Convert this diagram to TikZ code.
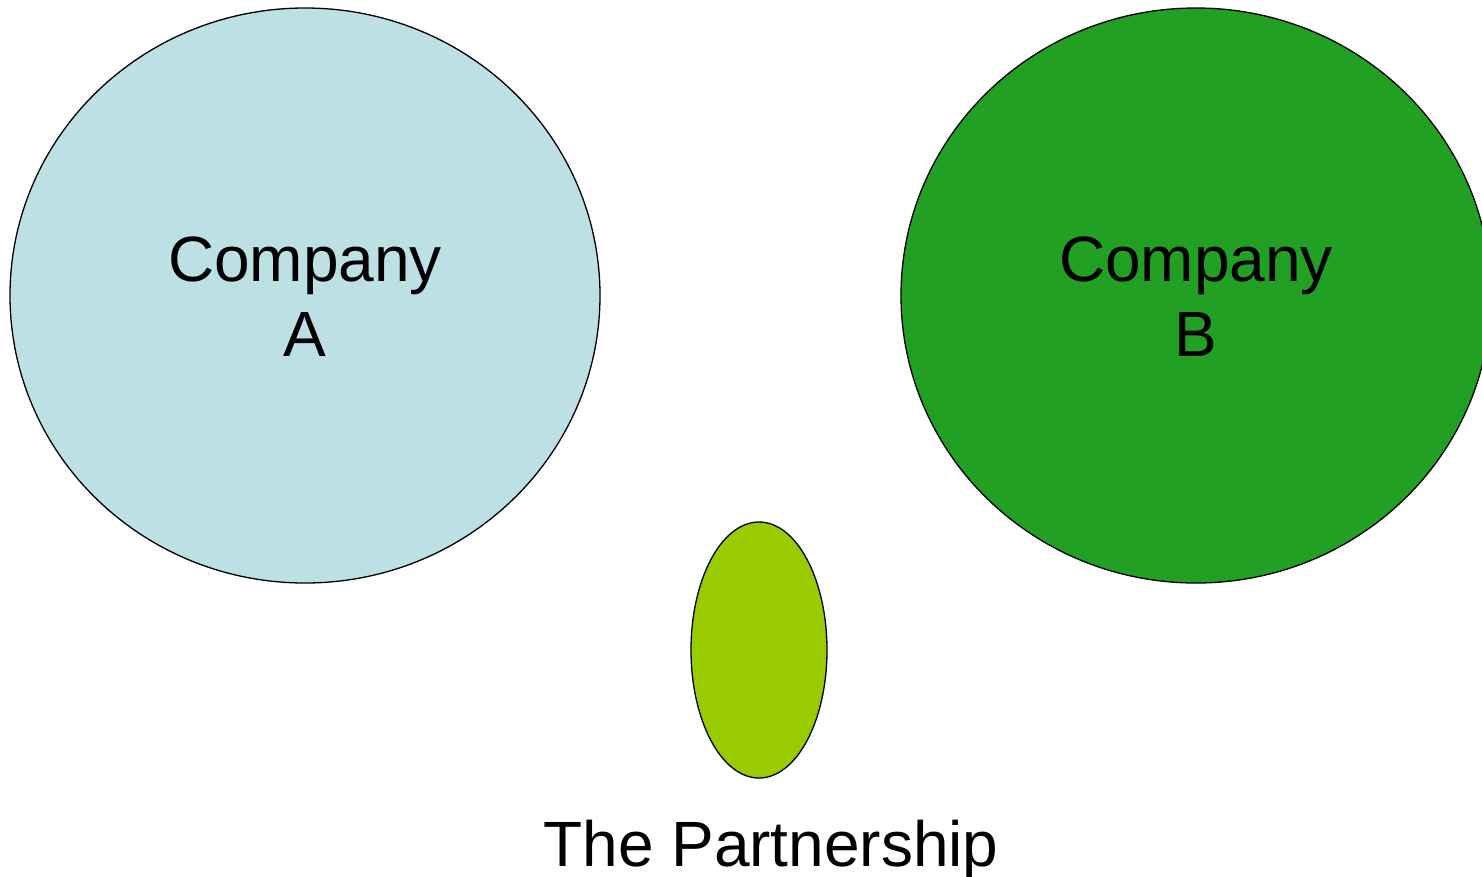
\documentclass[tikz,border=0pt]{standalone}
\usepackage{fontspec}
\setmainfont{Liberation Sans}
\usetikzlibrary{shapes.geometric}
\definecolor{compA}{HTML}{BCE0E3}
\definecolor{compB}{HTML}{21A024}
\definecolor{partner}{HTML}{99CC00}
\tikzset{
  company/.style={ellipse, draw=black, line width=1.3pt, inner sep=0pt,
    minimum width=590pt, minimum height=575pt},
  bigtext/.style={font=\fontsize{64}{75}\selectfont, align=center, text=black}
}
\begin{document}
\begin{tikzpicture}[x=1pt,y=-1pt]
  \useasboundingbox (0,0) rectangle (1482,876);
  % the two companies
  \node[company, fill=compA] (a) at (305,295.5) {};
  \node[company, fill=compB] (b) at (1196,295.5) {};
  \node[bigtext] (alabel) at (305,297) {Company\\A};
  \node[bigtext] (blabel) at (1196,297) {Company\\B};
  % the partnership between them
  \node[ellipse, draw=black, line width=1.3pt, inner sep=0pt, fill=partner,
    minimum width=136pt, minimum height=256pt] (p) at (759,650) {};
  \node[bigtext, anchor=base] (plabel) at (771,866) {The Partnership};
\end{tikzpicture}
\end{document}
